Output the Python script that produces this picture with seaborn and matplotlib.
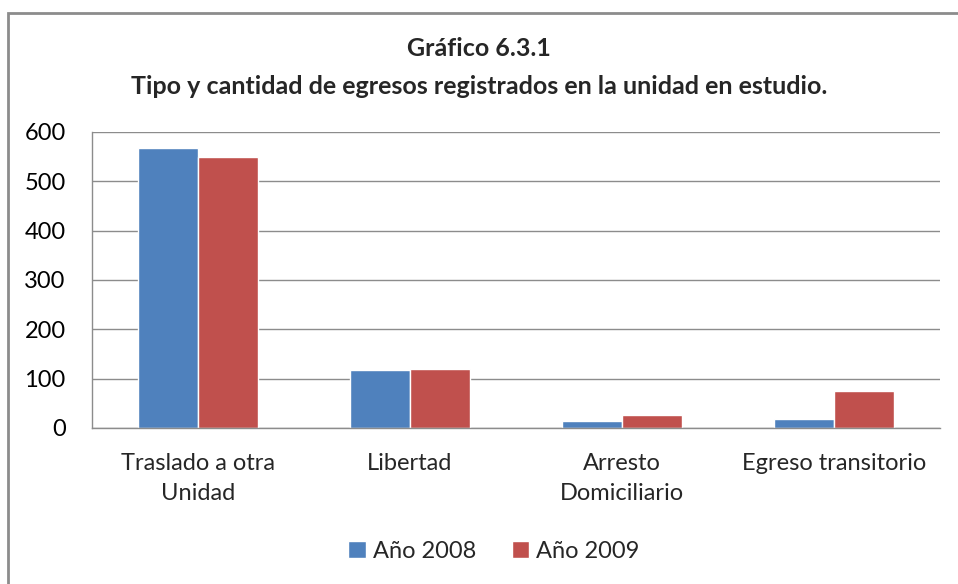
import numpy as np
import pandas as pd
import matplotlib
matplotlib.use("Agg")
from matplotlib import pyplot as plt
from matplotlib.patches import Rectangle
import seaborn as sns

categories = ["Traslado a otra\nUnidad", "Libertad", "Arresto\nDomiciliario",
              "Egreso transitorio"]
series_names = ["Año 2008", "Año 2009"]
values_2008 = [568, 117, 15, 19]
values_2009 = [549, 120, 26, 76]
y_ticks = [0, 100, 200, 300, 400, 500, 600]
colors = ["#4F81BD", "#C0504D"]

df = pd.DataFrame({
    "categoria": categories * 2,
    "serie": [series_names[0]] * len(categories) + [series_names[1]] * len(categories),
    "valor": values_2008 + values_2009,
})

sns.set_style("white")
plt.rcParams["font.family"] = ["Lato", "DejaVu Sans"]

f = plt.figure(figsize=(9.58, 5.84), dpi=100)
ax = f.add_axes([92 / 958, 1 - 428 / 584, 848 / 958, 296 / 584])

sns.barplot(
    data=df,
    x="categoria",
    y="valor",
    hue="serie",
    palette=colors,
    width=0.57,
    saturation=1,
    ax=ax,
    legend=True,
)

ax.set_ylim(0, 600)
ax.set_yticks(y_ticks)
ax.set_xlim(-0.5, len(categories) - 0.5)
ax.yaxis.grid(True, color="#8c8c8c", linewidth=1)
ax.set_axisbelow(True)
ax.set_xlabel("")
ax.set_ylabel("")
ax.tick_params(axis="y", labelsize=17, pad=19, colors="#000000", length=0)
ax.tick_params(axis="x", labelsize=17, pad=18, length=0)
for lbl in ax.get_xticklabels():
    lbl.set_linespacing(1.5)
for s in ["top", "right"]:
    ax.spines[s].set_visible(False)
for s in ["left", "bottom"]:
    ax.spines[s].set_color("#8c8c8c")
    ax.spines[s].set_linewidth(1)

ax.legend(
    loc="center",
    bbox_to_anchor=(494 / 958, 1 - 551 / 584),
    bbox_transform=f.transFigure,
    ncol=2,
    frameon=False,
    fontsize=17,
    handlelength=0.75,
    handleheight=0.75,
    handletextpad=0.3,
    columnspacing=1.5,
)

f.text(0.5, 1 - 48 / 584, "Gráfico 6.3.1", ha="center", va="center",
       fontsize=18, fontweight="bold")
f.text(0.5, 1 - 86 / 584,
       "Tipo y cantidad de egresos registrados en la unidad en estudio.",
       ha="center", va="center", fontsize=18, fontweight="bold")

f.patches.append(Rectangle(
    (8 / 958, -0.05), 1.1, 1 - 13 / 584 + 0.05,
    transform=f.transFigure, fill=False, edgecolor="#8c8c8c", linewidth=2,
))

f.savefig("out.png", dpi=100)
